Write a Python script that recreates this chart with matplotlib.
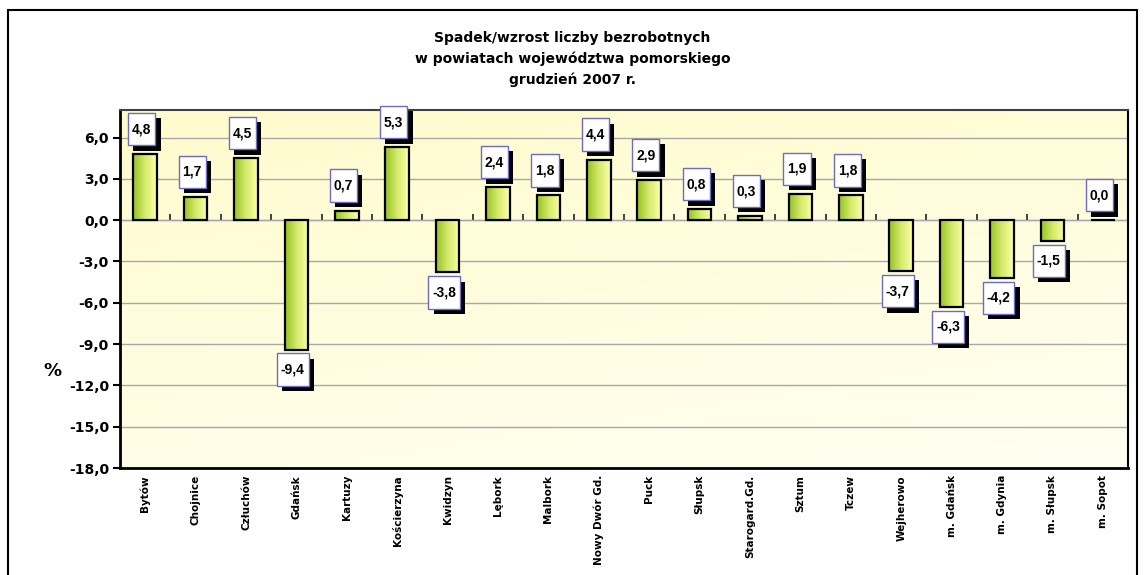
import numpy as np
import matplotlib
matplotlib.use("Agg")
import matplotlib.pyplot as plt
from matplotlib.path import Path
from matplotlib.patches import Rectangle
from matplotlib.colors import LinearSegmentedColormap
import matplotlib.patheffects as pe

categories = ["Bytów", "Chojnice", "Człuchów", "Gdańsk", "Kartuzy", "Kościerzyna",
              "Kwidzyn", "Lębork", "Malbork", "Nowy Dwór Gd.", "Puck", "Słupsk",
              "Starogard.Gd.", "Sztum", "Tczew", "Wejherowo", "m. Gdańsk",
              "m. Gdynia", "m. Słupsk", "m. Sopot"]
values = [4.8, 1.7, 4.5, -9.4, 0.7, 5.3, -3.8, 2.4, 1.8, 4.4, 2.9, 0.8, 0.3,
          1.9, 1.8, -3.7, -6.3, -4.2, -1.5, 0.0]
yticks = [6, 3, 0, -3, -6, -9, -12, -15, -18]
title = "Spadek/wzrost liczby bezrobotnych\nw powiatach województwa pomorskiego\ngrudzień 2007 r."

DPI = 100
fig = plt.figure(figsize=(11.45, 5.75), dpi=DPI)
fig.patch.set_facecolor("white")

# outer frame
fig.patches.append(Rectangle((8 / 1145, -0.05), (1137 - 8) / 1145, 1.05 - 10 / 575,
                             transform=fig.transFigure, fill=False,
                             edgecolor="black", linewidth=1.5))

ax = fig.add_axes([120 / 1145, (575 - 468) / 575, (1128 - 120) / 1145, (468 - 110) / 575])
ymin, ymax = -18, 8
ax.set_ylim(ymin, ymax)
ax.set_xlim(-0.5, len(categories) - 0.5)

# background gradient
bg_cmap = LinearSegmentedColormap.from_list("bg", ["#fffbcc", "#fffff2"])
gy, gx = np.mgrid[0:1:100j, 0:1:100j]
grad = gy * 0.7 + gx * 0.3
ax.imshow(grad, extent=[0, 1, 0, 1], transform=ax.transAxes, cmap=bg_cmap,
          aspect="auto", zorder=0, origin="upper")

ax.set_yticks(yticks)
ax.set_yticklabels([f"{t:.1f}".replace(".", ",") for t in yticks],
                   fontsize=10, fontweight="bold")
ax.grid(axis="y", color="#a8a8a8", linewidth=1.0, zorder=1)
ax.tick_params(axis="y", direction="out", length=5, width=1.5, pad=3)

x = np.arange(len(categories))
ax.set_xticks(x)
ax.set_xticklabels(categories, rotation=90, fontsize=7.5, fontweight="bold",
                   va="top")
ax.tick_params(axis="x", length=0, pad=5)

for s in ["left", "bottom"]:
    ax.spines[s].set_linewidth(2)
    ax.spines[s].set_color("black")
ax.spines["top"].set_linewidth(1.5)
ax.spines["top"].set_color("#404040")
ax.spines["right"].set_linewidth(1.5)
ax.spines["right"].set_color("black")

# zero line with ticks between categories
zero_frac = (0 - ymin) / (ymax - ymin)
sec = ax.secondary_xaxis(zero_frac)
sec.set_xticks(x[:-1] + 0.5)
sec.set_xticklabels([])
sec.tick_params(axis="x", direction="out", length=4, width=1.2, color="#202020")
sec.spines["bottom"].set_linewidth(1.5)
sec.spines["bottom"].set_color("black")

# bars with gradient
bar_cmap = LinearSegmentedColormap.from_list("bar", ["#98c424", "#d4ea6c", "#ffffa8"])
bars = ax.bar(x, values, width=0.47, color="none", edgecolor="black",
              linewidth=1.6, zorder=3)
hgrad = np.linspace(0, 1, 64).reshape(1, -1)
for b in bars:
    bx, by = b.get_x(), b.get_y()
    bw, bh = b.get_width(), b.get_height()
    if bh == 0:
        continue
    im = ax.imshow(hgrad, extent=[bx, bx + bw, by, by + bh], cmap=bar_cmap,
                   aspect="auto", zorder=2.5, origin="lower")
    im.set_clip_path(b)
ax.set_xlim(-0.5, len(categories) - 0.5)
ax.set_ylim(ymin, ymax)


def label_box(x0, y0, width, height, mutation_size):
    px = 0.28 * mutation_size
    py = 0.66 * mutation_size
    xa, ya = x0 - px, y0 - py
    xb, yb = x0 + width + px, y0 + height + py
    return Path([(xa, ya), (xb, ya), (xb, yb), (xa, yb), (xa, ya)],
                [Path.MOVETO, Path.LINETO, Path.LINETO, Path.LINETO, Path.CLOSEPOLY])


for xi, v in zip(x, values):
    off = 25 if v >= 0 else -20
    t = ax.annotate(f"{v:.1f}".replace(".", ","), xy=(xi, v),
                    xytext=(-2.5, off * 72 / DPI), textcoords="offset points",
                    ha="center", va="center", fontsize=10, fontweight="bold",
                    family="Liberation Sans", zorder=6,
                    bbox=dict(boxstyle=label_box, facecolor="white",
                              edgecolor="#6c6cc4", linewidth=1.0))
    t.get_bbox_patch().set_path_effects([
        pe.SimplePatchShadow(offset=(3.8, -3.8), shadow_rgbFace="black", alpha=1.0),
        pe.Normal()])

ax.set_ylabel("%", fontsize=13, fontweight="bold", rotation=0, va="center")
ax.yaxis.set_label_coords(-0.067, 0.27)

fig.text(0.5, 1 - 31 / 575, title, ha="center", va="top", fontsize=10,
         fontweight="bold", linespacing=1.55)

fig.savefig("out.png", dpi=DPI)
